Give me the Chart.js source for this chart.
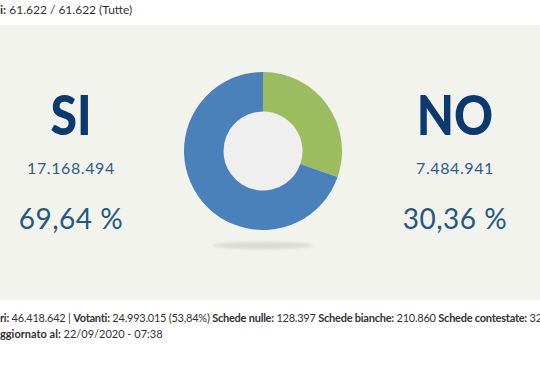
<!DOCTYPE html>
<html>
<head>
<meta charset="utf-8">
<script src="https://cdn.jsdelivr.net/npm/chart.js@4"></script>
<style>
  body { margin: 0; width: 540px; height: 370px; background: #fff; position: relative; overflow: hidden; font-family: Lato, "Open Sans", sans-serif; }
  .band { position: absolute; left: 0; top: 25px; width: 540px; height: 275px; background: #f3f3ee; }
  .topline { position: absolute; left: 0; top: 2px; font-size: 12px; color: #333; white-space: nowrap; }
  .foot { position: absolute; left: 0; font-size: 11px; color: #333; white-space: nowrap; }
  .foot b, .topline b { font-weight: 700; }
  .side { position: absolute; width: 160px; text-align: center; }
  .big { font-size: 56px; font-weight: 900; color: #0d3a6e; line-height: 1; transform: scaleX(0.86); }
  .votes { font-size: 16px; color: #2b5d88; letter-spacing: 0.6px; }
  .pct { font-size: 28px; color: #24587f; letter-spacing: 0.5px; }
  #wrap { position: absolute; left: 184px; top: 72px; width: 158px; height: 158px; }
  .shadow { position: absolute; left: 213px; top: 242px; width: 100px; height: 7px; border-radius: 50%; background: #d9d9d5; filter: blur(1.5px); }
</style>
</head>
<body>
<div class="topline"><b>i:</b> 61.622 / 61.622 (Tutte)</div>
<div class="band"></div>
<div class="shadow"></div>
<div id="wrap"><canvas id="donut"></canvas></div>
<div class="foot" id="foot1" style="top:311px"><b>ri:</b> 46.418.642 | <b>Votanti:</b> 24.993.015 (53,84%) <b>Schede nulle:</b> 128.397 <b>Schede bianche:</b> 210.860 <b>Schede contestate:</b> 32</div>
<div class="foot" style="top:327px"><b>ggiornato al:</b> 22/09/2020 - 07:38</div>
<script>
const labels = ['NO', 'SI'];
const votes = [7484941, 17168494];
const voteText = ['7.484.941', '17.168.494'];
const pctText = ['30,36 %', '69,64 %'];
const colors = ['#9bbd5f', '#4a81bb'];
const sideX = [375, -9];

labels.forEach((lab, i) => {
    const el = document.createElement('div');
    el.className = 'side';
    el.style.left = sideX[i] + 'px';
    el.style.top = '0px';
    el.innerHTML =
        `<div class="big" style="position:absolute;left:0;width:160px;top:86px">${lab}</div>` +
        `<div class="votes" style="position:absolute;left:0;width:160px;top:158px">${voteText[i]}</div>` +
        `<div class="pct" style="position:absolute;left:0;width:160px;top:201px">${pctText[i]}</div>`;
    document.body.appendChild(el);
});

// squeeze the footer line so it runs just past the right edge like the original
const foot1 = document.getElementById('foot1');
const natural = foot1.getBoundingClientRect().width;
const chars = foot1.textContent.length;
foot1.style.letterSpacing = ((542 - natural) / chars) + 'px';

const holeFill = {
    id: 'holeFill',
    beforeDatasetsDraw(chart) {
        const arc = chart.getDatasetMeta(0).data[0];
        if (!arc) return;
        const ctx = chart.ctx;
        ctx.save();
        ctx.beginPath();
        ctx.arc(arc.x, arc.y, arc.innerRadius, 0, Math.PI * 2);
        ctx.fillStyle = '#efeff0';
        ctx.fill();
        ctx.restore();
    }
};

new Chart(document.getElementById('donut').getContext('2d'), {
    type: 'doughnut',
    data: {
        labels: labels,
        datasets: [{
            data: votes,
            backgroundColor: colors,
            borderWidth: 0
        }]
    },
    options: {
        responsive: true,
        maintainAspectRatio: false,
        animation: false,
        cutout: '50%',
        plugins: { legend: { display: false }, tooltip: { enabled: false } }
    },
    plugins: [holeFill]
});
</script>
</body>
</html>
